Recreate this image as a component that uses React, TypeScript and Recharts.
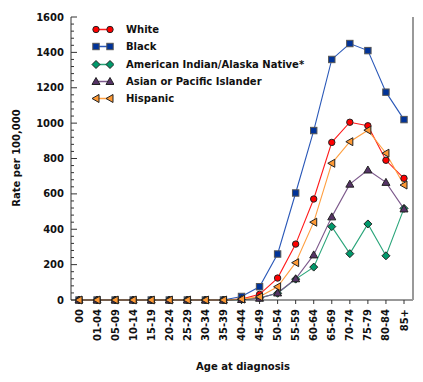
import { LineChart, Line, XAxis, YAxis } from 'recharts';

const ageGroups = ['00', '01-04', '05-09', '10-14', '15-19', '20-24', '25-29', '30-34', '35-39',
  '40-44', '45-49', '50-54', '55-59', '60-64', '65-69', '70-74', '75-79', '80-84', '85+'];

const white = [0, 0, 0, 0, 0, 0, 0, 0, 0, 5, 32, 124, 316, 571, 891, 1005, 985, 790, 688];
const black = [0, 0, 0, 0, 0, 0, 0, 0, 0, 20, 75, 260, 605, 958, 1360, 1450, 1410, 1175, 1020];
const aian = [0, 0, 0, 0, 0, 0, 0, 0, 0, 2, 12, 38, 118, 186, 415, 262, 430, 250, 518];
const api = [0, 0, 0, 0, 0, 0, 0, 0, 0, 3, 10, 40, 120, 255, 470, 655, 735, 665, 515];
const hispanic = [0, 0, 0, 0, 0, 0, 0, 0, 0, 5, 18, 75, 211, 440, 773, 895, 960, 830, 650];

const yTicks = Array.from({ length: 41 }, (_, i) => i * 40);

const data = ageGroups.map((age, i) => ({
  age,
  white: white[i],
  black: black[i],
  aian: aian[i],
  api: api[i],
  hispanic: hispanic[i],
}));

const FONT = '"DejaVu Sans", Verdana, sans-serif';

type Shape = 'circle' | 'square' | 'diamond' | 'triangle' | 'left';

const Marker = ({ cx, cy, shape, fill }: { cx: number; cy: number; shape: Shape; fill: string }) => {
  if (cx == null || cy == null) return null;
  const stroke = '#222';
  switch (shape) {
    case 'circle':
      return <circle cx={cx} cy={cy} r={3.2} fill={fill} stroke={stroke} strokeWidth={1} />;
    case 'square':
      return <rect x={cx - 3.2} y={cy - 3.2} width={6.4} height={6.4} fill={fill} stroke="#555" strokeWidth={1} />;
    case 'diamond':
      return <polygon points={`${cx},${cy - 4} ${cx + 4},${cy} ${cx},${cy + 4} ${cx - 4},${cy}`} fill={fill} stroke={stroke} strokeWidth={1} />;
    case 'triangle':
      return <polygon points={`${cx},${cy - 4} ${cx + 4},${cy + 3} ${cx - 4},${cy + 3}`} fill={fill} stroke={stroke} strokeWidth={1} />;
    case 'left':
      return <polygon points={`${cx - 4},${cy} ${cx + 3},${cy - 4} ${cx + 3},${cy + 4}`} fill={fill} stroke={stroke} strokeWidth={1} />;
  }
  return null;
};

const series: { key: string; name: string; line: string; fill: string; shape: Shape }[] = [
  { key: 'white', name: 'White', line: '#ff1a1a', fill: '#ff0000', shape: 'circle' },
  { key: 'black', name: 'Black', line: '#2a58b8', fill: '#003399', shape: 'square' },
  { key: 'aian', name: 'American Indian/Alaska Native*', line: '#2aa57a', fill: '#00996b', shape: 'diamond' },
  { key: 'api', name: 'Asian or Pacific Islander', line: '#7d5a8c', fill: '#553366', shape: 'triangle' },
  { key: 'hispanic', name: 'Hispanic', line: '#ff9f40', fill: '#ff9933', shape: 'left' },
];

const LegendBox = () => (
  <div style={{ position: 'absolute', left: 88, top: 21, fontFamily: FONT, fontWeight: 'bold', fontSize: 10, color: '#111' }}>
    {series.map((s) => (
      <div key={s.key} style={{ display: 'flex', alignItems: 'center', height: 17.3 }}>
        <svg width={26} height={17}>
          <line x1={8} y1={8.5} x2={22} y2={8.5} stroke={s.line} strokeWidth={1.5} />
          <Marker cx={8} cy={8.5} shape={s.shape} fill={s.fill} />
          <Marker cx={22} cy={8.5} shape={s.shape} fill={s.fill} />
        </svg>
        <span style={{ marginLeft: 12 }}>{s.name}</span>
      </div>
    ))}
  </div>
);

const YTick = (props: any) => {
  const { x, y, payload } = props;
  const major = payload.value % 200 === 0;
  return (
    <g>
      <line x1={x} y1={y} x2={x + (major ? 6 : 3)} y2={y} stroke="#333" strokeWidth={1} />
      {major && (
        <text x={x - 7} y={y} dy="0.35em" textAnchor="end" fontFamily={FONT} fontWeight="bold" fontSize={10} fill="#111">
          {payload.value}
        </text>
      )}
    </g>
  );
};

const XTick = (props: any) => {
  const { x, y, payload } = props;
  return (
    <text x={x} y={y} dy="0.35em" textAnchor="end" transform={`rotate(-90 ${x} ${y})`}
      fontFamily={FONT} fontWeight="bold" fontSize={10} fill="#111">
      {payload.value}
    </text>
  );
};

export default function App() {
  return (
    <div style={{ position: 'absolute', left: 0, top: 0, width: 423, height: 382, background: '#fff' }}>
      <LineChart width={423} height={382} data={data} margin={{ top: 17, right: 9, bottom: 0, left: 0 }}>
        <XAxis
          dataKey="age"
          padding={{ left: 8, right: 9 }}
          height={82}
          interval={0}
          tickSize={4}
          tickMargin={5}
          stroke="#333"
          tick={<XTick />}
          label={() => (
            <text x={243} y={370} textAnchor="middle" fontFamily={FONT} fontWeight="bold" fontSize={10} fill="#111">
              Age at diagnosis
            </text>
          )}
        />
        <YAxis
          domain={[0, 1600]}
          ticks={yTicks}
          interval={0}
          width={71}
          tickSize={0}
          tickMargin={0}
          tickLine={false}
          stroke="#333"
          tick={<YTick />}
          label={() => (
            <text x={20} y={158} textAnchor="middle" transform="rotate(-90 20 158)" fontFamily={FONT} fontWeight="bold" fontSize={10} fill="#111">
              Rate per 100,000
            </text>
          )}
        />
        <YAxis yAxisId="r" orientation="right" width={1} tick={false} tickLine={false} axisLine={{ stroke: '#999', strokeWidth: 2 }} />
        {series.map((s) => (
          <Line
            key={s.key}
            dataKey={s.key}
            name={s.name}
            stroke={s.line}
            strokeWidth={1.1}
            isAnimationActive={false}
            dot={(p: any) => <Marker key={`${s.key}-${p.index}`} cx={p.cx} cy={p.cy} shape={s.shape} fill={s.fill} />}
            activeDot={false}
          />
        ))}
      </LineChart>
      <LegendBox />
    </div>
  );
}
